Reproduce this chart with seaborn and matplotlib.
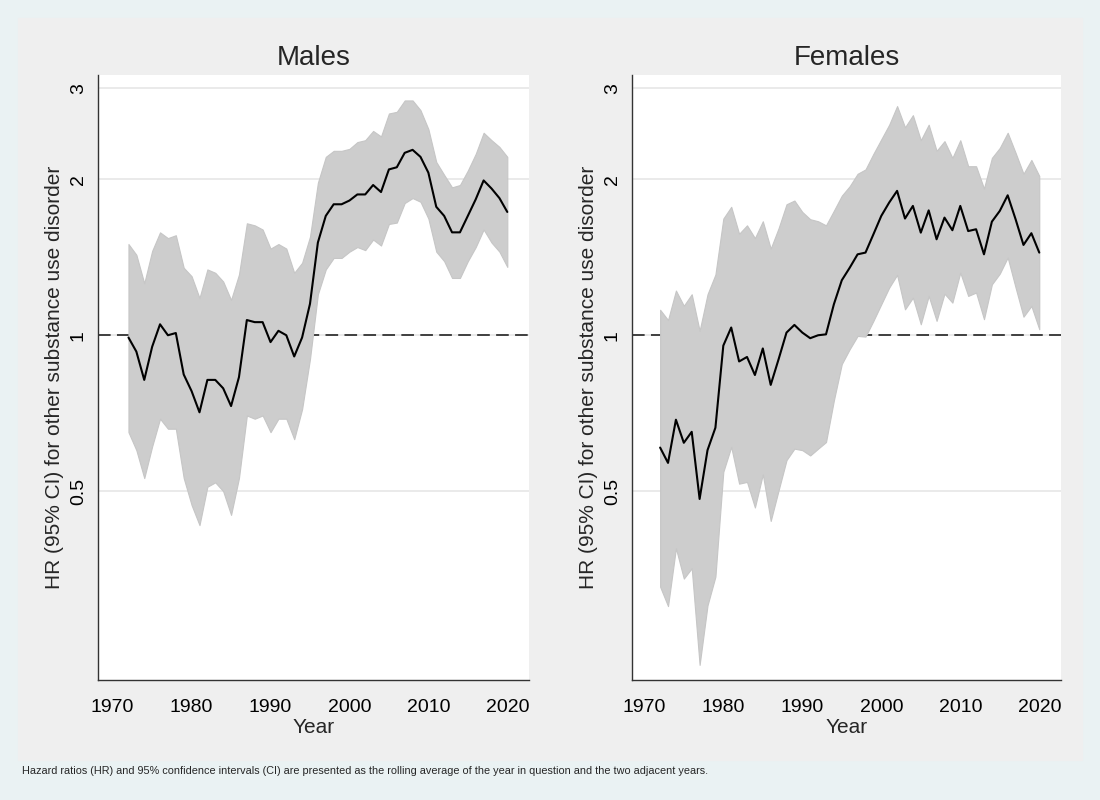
import matplotlib
matplotlib.use("Agg")
import matplotlib.pyplot as plt
import seaborn as sns
import pandas as pd
from matplotlib.patches import Rectangle

# years shown on both panels
years = list(range(1972, 2021))

# Males: rolling HR and 95% CI
male_hr = [0.99, 0.93, 0.82, 0.95, 1.05, 1.00, 1.01, 0.84, 0.78,
           0.71, 0.82, 0.82, 0.79, 0.73, 0.83, 1.07, 1.06, 1.06, 0.97,
           1.02, 1.00, 0.91, 0.99, 1.15, 1.51, 1.70, 1.79, 1.79, 1.82,
           1.87, 1.87, 1.95, 1.89, 2.09, 2.11, 2.25, 2.28, 2.21, 2.06,
           1.77, 1.70, 1.58, 1.58, 1.70, 1.83, 1.99, 1.92, 1.84, 1.73]
male_upper = [1.50, 1.43, 1.26, 1.455, 1.58, 1.54, 1.56, 1.35, 1.30,
              1.18, 1.34, 1.32, 1.27, 1.17, 1.31, 1.645, 1.63, 1.60, 1.47,
              1.50, 1.47, 1.32, 1.38, 1.55, 1.97, 2.21, 2.27, 2.27, 2.29,
              2.36, 2.38, 2.48, 2.42, 2.68, 2.70, 2.84, 2.84, 2.72, 2.50,
              2.16, 2.04, 1.93, 1.95, 2.08, 2.24, 2.46, 2.38, 2.31, 2.21]
male_lower = [0.65, 0.60, 0.53, 0.61, 0.69, 0.66, 0.66, 0.53, 0.47,
              0.43, 0.51, 0.52, 0.50, 0.45, 0.53, 0.70, 0.69, 0.70, 0.65,
              0.69, 0.69, 0.63, 0.72, 0.90, 1.20, 1.34, 1.41, 1.41, 1.45,
              1.48, 1.46, 1.53, 1.49, 1.64, 1.65, 1.80, 1.84, 1.81, 1.68,
              1.45, 1.39, 1.29, 1.29, 1.39, 1.48, 1.60, 1.51, 1.45, 1.355]

# Females: rolling HR and 95% CI
female_hr = [0.607, 0.567, 0.687, 0.62, 0.651, 0.483, 0.60, 0.663, 0.955,
             1.035, 0.89, 0.908, 0.838, 0.943, 0.802, 0.899, 1.012, 1.047, 1.012,
             0.987, 1.0, 1.004, 1.148, 1.277, 1.35, 1.433, 1.444, 1.566, 1.70,
             1.804, 1.90, 1.68, 1.777, 1.578, 1.742, 1.532, 1.687, 1.595, 1.777,
             1.589, 1.602, 1.433, 1.657, 1.738, 1.863, 1.675, 1.494, 1.574, 1.444]
female_upper = [1.12, 1.07, 1.22, 1.14, 1.20, 1.02, 1.20, 1.31, 1.68,
                1.77, 1.57, 1.63, 1.54, 1.66, 1.47, 1.61, 1.79, 1.82, 1.73,
                1.675, 1.66, 1.63, 1.74, 1.86, 1.94, 2.05, 2.09, 2.24, 2.39,
                2.55, 2.77, 2.52, 2.66, 2.38, 2.55, 2.27, 2.37, 2.20, 2.38,
                2.12, 2.12, 1.92, 2.20, 2.30, 2.46, 2.25, 2.05, 2.18, 2.03]
female_lower = [0.327, 0.300, 0.388, 0.339, 0.355, 0.231, 0.301, 0.342, 0.545,
                0.609, 0.517, 0.521, 0.465, 0.539, 0.438, 0.502, 0.574, 0.604, 0.600,
                0.586, 0.604, 0.622, 0.749, 0.88, 0.94, 0.997, 0.994, 1.066, 1.148,
                1.236, 1.308, 1.122, 1.182, 1.05, 1.191, 1.066, 1.203, 1.156, 1.321,
                1.191, 1.209, 1.074, 1.254, 1.315, 1.413, 1.236, 1.086, 1.139, 1.027]

panel_titles = ["Males", "Females"]
y_ticks = [0.5, 1, 2, 3]
y_tick_labels = ["0.5", "1", "2", "3"]
x_ticks = [1970, 1980, 1990, 2000, 2010, 2020]
y_label = "HR (95% CI) for other substance use disorder"
note = ("Hazard ratios (HR) and 95% confidence intervals (CI) are presented as the "
        "rolling average of the year in question and the two adjacent years.")

sns.set_theme(style="white")
plt.rcParams['font.family'] = ['Liberation Sans', 'DejaVu Sans']

fig = plt.figure(figsize=(11, 8), dpi=100)
fig.patch.set_facecolor('#EAF2F3')
fig.patches.append(Rectangle((18 / 1100, 40 / 800), 1064 / 1100, 742 / 800,
                             transform=fig.transFigure, color='#EFEFEF',
                             zorder=-10))

panels = [
    (male_hr, male_lower, male_upper, [98 / 1100, 0.15, 431 / 1100, 0.75625], 1968.14),
    (female_hr, female_lower, female_upper, [632 / 1100, 0.15, 429 / 1100, 0.75625], 1968.44),
]

for (hr, lower, upper, rect, x_left), title in zip(panels, panel_titles):
    ax = fig.add_axes(rect)
    ax.set_facecolor('white')
    df = pd.DataFrame({'Year': years, 'HR': hr, 'lo': lower, 'hi': upper})

    ax.fill_between(df['Year'], df['lo'], df['hi'], color='#CDCDCD',
                    edgecolor='#C6C6C6', linewidth=0.8, zorder=2)
    sns.lineplot(data=df, x='Year', y='HR', ax=ax, color='black',
                 linewidth=1.5, zorder=3)
    ax.axhline(1, color='#333333', linewidth=1.3, dashes=(7, 3.5), zorder=1)

    ax.set_yscale('log')
    ax.set_ylim(0.216, 3.18)
    ax.set_xlim(x_left, 2022.75)
    ax.set_yticks(y_ticks)
    ax.set_yticklabels(y_tick_labels)
    ax.minorticks_off()
    ax.set_xticks(x_ticks)

    ax.yaxis.grid(True, color='#E6E6E6', linewidth=1.2, zorder=0)
    ax.xaxis.grid(False)
    ax.set_axisbelow(True)

    for side in ['top', 'right']:
        ax.spines[side].set_visible(False)
    for side in ['left', 'bottom']:
        ax.spines[side].set_color('#333333')
        ax.spines[side].set_linewidth(1.0)

    ax.tick_params(axis='both', direction='out', length=6, width=1,
                   color='#333333', labelsize=14, labelcolor='black')
    ax.tick_params(axis='y', labelrotation=90, pad=2)
    ax.tick_params(axis='x', pad=8)
    for lbl in ax.get_yticklabels():
        lbl.set_verticalalignment('center')

    ax.set_title(title, fontsize=20, pad=7)
    ax.set_xlabel('Year', fontsize=15, labelpad=1)
    ax.set_ylabel(y_label, fontsize=15, labelpad=4)

fig.text(22 / 1100, 1 - 771 / 800, note, fontsize=7.85, va='center',
         family=['Liberation Sans Narrow', 'Liberation Sans', 'DejaVu Sans'])

fig.savefig('out.png', dpi=100, facecolor=fig.get_facecolor())
